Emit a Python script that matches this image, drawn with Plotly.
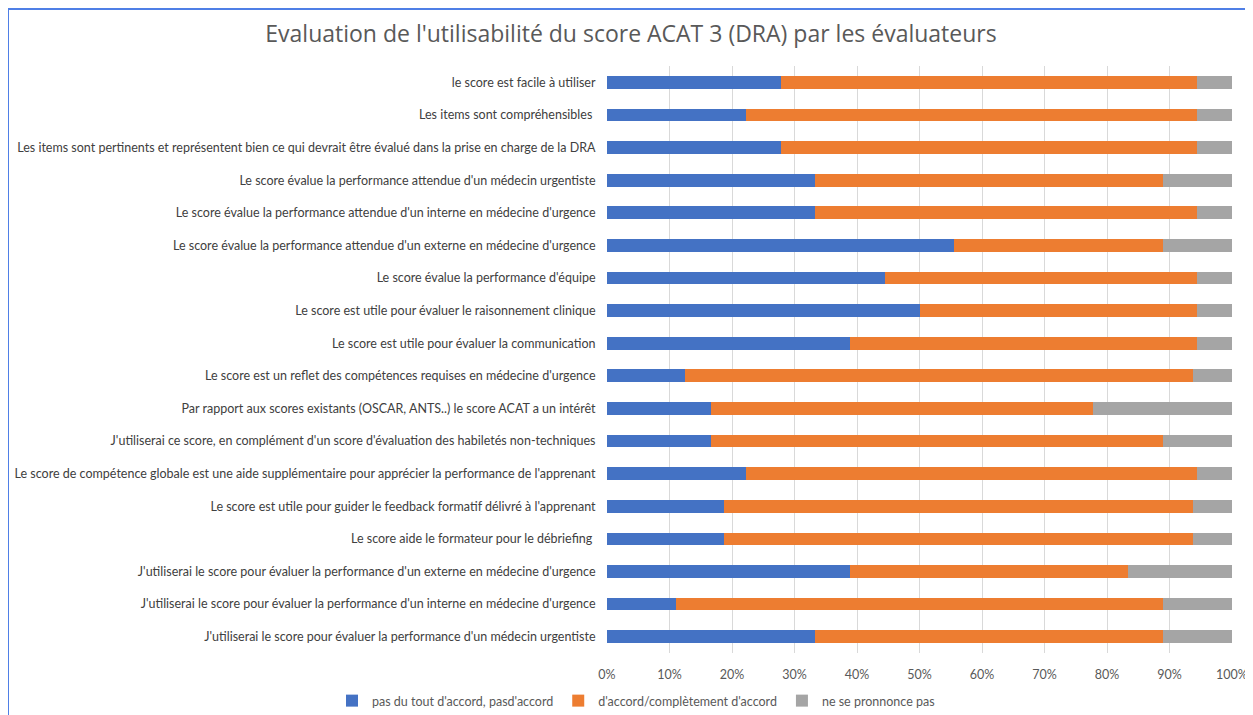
import plotly.graph_objects as go

categories = [
    "le score est facile à utiliser",
    "Les items sont compréhensibles ",
    "Les items sont pertinents et représentent bien ce qui devrait être évalué dans la prise en charge de la DRA",
    "Le score évalue la performance attendue d'un médecin urgentiste",
    "Le score évalue la performance attendue d'un interne en médecine d'urgence",
    "Le score évalue la performance attendue d'un externe en médecine d'urgence",
    "Le score évalue la performance d'équipe",
    "Le score est utile pour évaluer le raisonnement clinique",
    "Le score est utile pour évaluer la communication",
    "Le score est un reflet des compétences requises en médecine d'urgence",
    "Par rapport aux scores existants (OSCAR, ANTS..) le score ACAT a un intérêt",
    "J'utiliserai ce score, en complément d'un score d'évaluation des habiletés non-techniques",
    "Le score de compétence globale est une aide supplémentaire pour apprécier la performance de l'apprenant",
    "Le score est utile pour guider le feedback formatif délivré à l'apprenant",
    "Le score aide le formateur pour le débriefing ",
    "J'utiliserai le score pour évaluer la performance d'un externe en médecine d'urgence",
    "J'utiliserai le score pour évaluer la performance d'un interne en médecine d'urgence",
    "J'utiliserai le score pour évaluer la performance d'un médecin urgentiste",
]

pas_accord = [27.78, 22.22, 27.78, 33.33, 33.33, 55.56, 44.44, 50.0, 38.89, 12.5,
              16.67, 16.67, 22.22, 18.75, 18.75, 38.89, 11.11, 33.33]
accord = [66.67, 72.22, 66.67, 55.56, 61.11, 33.33, 50.0, 44.44, 55.56, 81.25,
          61.11, 72.22, 72.22, 75.0, 75.0, 44.44, 77.78, 55.56]
ne_se_prononce = [5.56, 5.56, 5.56, 11.11, 5.56, 11.11, 5.56, 5.56, 5.56, 6.25,
                  22.22, 11.11, 5.56, 6.25, 6.25, 16.67, 11.11, 11.11]

series_names = ["pas du tout d'accord, pasd'accord",
                "d'accord/complètement d'accord",
                "ne se pronnonce pas"]
colors = ["#4472C4", "#ED7D31", "#A5A5A5"]

x_ticks = [0, 10, 20, 30, 40, 50, 60, 70, 80, 90, 100]

# page body has an 8px margin: figure coordinates = picture coordinates - 8
OFF = 8
W, H = 1253 - OFF, 715 - OFF
L = 607 - OFF
T = 66 - OFF
PLOT_RIGHT = 1232 - OFF
PLOT_BOTTOM = 653 - OFF
R = W - PLOT_RIGHT
B = H - PLOT_BOTTOM
pw, ph = W - L - R, H - T - B

def px2paper_x(px):
    return (px - OFF - L) / pw

def px2paper_y(py):
    return (PLOT_BOTTOM - (py - OFF)) / ph

fig = go.Figure()
for name, vals, col in zip(series_names, [pas_accord, accord, ne_se_prononce], colors):
    fig.add_trace(go.Bar(
        y=categories, x=vals, name=name, orientation="h",
        marker=dict(color=col, line=dict(width=0)),
    ))

font_family = "Lato, 'Open Sans', sans-serif"

fig.update_layout(
    width=W, height=H,
    margin=dict(l=L, r=R, t=T, b=B, autoexpand=False),
    barmode="stack",
    bargap=0.61,
    paper_bgcolor="white",
    plot_bgcolor="white",
    font=dict(family=font_family, size=12.5, color="#595959"),
    title=dict(
        text="Evaluation de l'utilisabilité du score ACAT 3 (DRA) par les évaluateurs",
        x=(631 - OFF) / W, xanchor="center", xref="container",
        y=1 - (34 - OFF) / H, yanchor="middle", yref="container",
        font=dict(family="'Open Sans', Lato, sans-serif", size=23, color="#595959"),
    ),
    xaxis=dict(
        range=[0, 100], tickvals=x_ticks, ticktext=[f"{v}%" for v in x_ticks],
        showgrid=True, gridcolor="#D9D9D9", gridwidth=1,
        zeroline=False, showline=False,
        ticks="outside", ticklen=10, tickcolor="rgba(0,0,0,0)",
        tickfont=dict(size=12.5, color="#595959"),
        fixedrange=True,
    ),
    yaxis=dict(
        autorange="reversed", type="category",
        showgrid=False, zeroline=False, showline=False,
        ticks="outside", ticklen=8, tickcolor="rgba(0,0,0,0)",
        tickfont=dict(size=12.5, color="#404040"),
    ),
    legend=dict(
        orientation="h", x=px2paper_x(636), xanchor="center",
        y=px2paper_y(701), yanchor="middle",
        font=dict(size=12.5, color="#595959"),
        itemwidth=30, traceorder="normal",
        bgcolor="rgba(0,0,0,0)",
    ),
    showlegend=True,
    shapes=[
        dict(type="line", xref="paper", yref="paper",
             x0=px2paper_x(8), x1=px2paper_x(1270),
             y0=px2paper_y(9), y1=px2paper_y(9),
             line=dict(color="#4F7FE6", width=2)),
        dict(type="line", xref="paper", yref="paper",
             x0=px2paper_x(8), x1=px2paper_x(8),
             y0=px2paper_y(9), y1=px2paper_y(730),
             line=dict(color="#4F7FE6", width=2)),
    ],
)

fig.write_html("out.html")
